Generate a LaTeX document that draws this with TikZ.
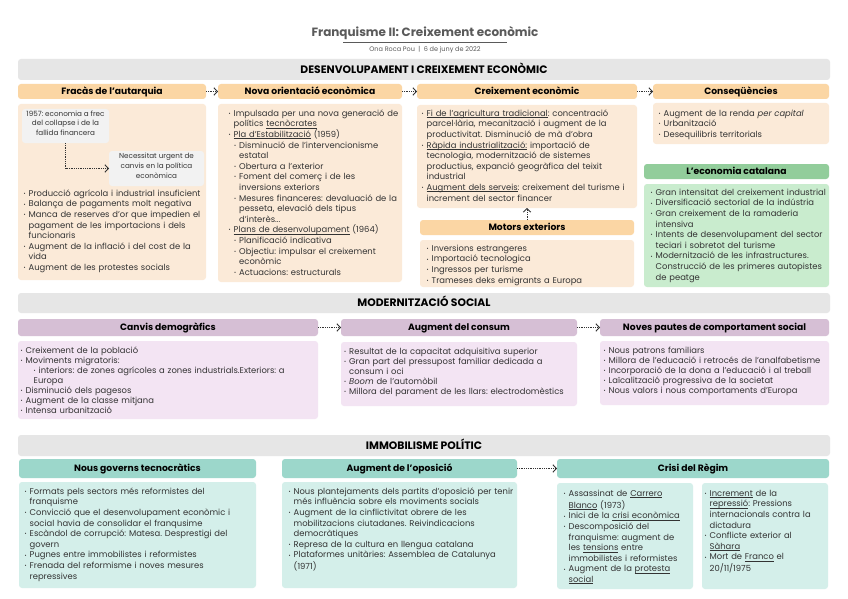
\documentclass[tikz,border=0pt]{standalone}
\usepackage{fontspec}
\setmainfont{Poppins}
\usetikzlibrary{arrows.meta,fit}
\setlength{\parskip}{0pt}
\frenchspacing
\definecolor{orH}{HTML}{FBD6A4}
\definecolor{orB}{HTML}{FBEAD8}
\definecolor{grH}{HTML}{92CD9B}
\definecolor{grB}{HTML}{C9ECCE}
\definecolor{puH}{HTML}{D6BFD5}
\definecolor{puB}{HTML}{F3E4F3}
\definecolor{teH}{HTML}{9CD7CB}
\definecolor{teB}{HTML}{D4EFEA}
\definecolor{barC}{HTML}{E6E6E6}
\definecolor{gbox}{HTML}{F2F2F2}
\definecolor{txtC}{HTML}{333333}
\definecolor{titleC}{HTML}{5A5A5A}
\definecolor{arrC}{HTML}{333333}
\newcommand\bulletchar{\raisebox{0.9pt}{\fontsize{5}{5}\selectfont •}}
\newcommand\bx[3]{\par\noindent\hangindent=#2\relax\hangafter=1\relax\hspace*{#1}\makebox[5pt][l]{\bulletchar}\strut#3}
\newcommand\bi[1]{\bx{0pt}{5pt}{#1}}
\newcommand\bii[1]{\bx{5.5pt}{10.5pt}{#1}}
\newcommand\ulx[1]{\begingroup\setbox0=\hbox{#1}\rlap{\rule[-1.4pt]{\wd0}{0.45pt}}\box0\endgroup}
\tikzset{
  panel/.style={rounded corners=3pt, inner sep=0pt, outer sep=0pt, draw=none},
  htxt/.style={anchor=base, inner sep=0pt, font=\bfseries\fontsize{9.2}{11}\selectfont, text=black},
  stxt/.style={anchor=base, inner sep=0pt, font=\bfseries\fontsize{10.8}{12}\selectfont, text=black},
  gnote/.style={panel, fill=gbox, font=\fontsize{7.2}{9.6}\selectfont, align=center, text=txtC},
  txt/.style={anchor=north west, inner sep=0pt, text width=300pt, align=left, font=\fontsize{8.4}{10.6}\selectfont, text=txtC},
  txtb/.style={txt, font=\fontsize{8.4}{10}\selectfont},
  arr/.style={draw=arrC, line width=0.8pt, densely dotted, -{Straight Barb[length=3.5pt,width=7.5pt,line width=0.9pt]}}
}
\begin{document}
\begin{tikzpicture}[x=1pt,y=-1pt]
\useasboundingbox[fill=white] (0,0) rectangle (848,599);
% title
\node[font=\bfseries\fontsize{12}{14}\selectfont, text=titleC] (title) at (425,33) {Franquisme II: Creixement econòmic};
\draw[titleC, line width=0.6pt] (343,42) -- (507,42);
\node[font=\fontsize{6.5}{8}\selectfont, text=titleC] (sub) at (425,50) {Ona Roca Pou \ | \ 6 de juny de 2022};

% ===== section 1
\node[panel, fill=barC, fit={(18,59)(830,80)}] (s1) {};
\node[stxt] (s1t) at ([yshift=-3.8pt]s1.center) {DESENVOLUPAMENT I CREIXEMENT ECONÒMIC};

% column 1
\node[panel, fill=orH, fit={(18,84)(206,99)}] (h1) {};
\node[htxt] (h1t) at ([yshift=-3.2pt]h1.center) {Fracàs de l’autarquia};
\node[panel, fill=orB, fit={(18,104)(206,280)}] (b1) {};
\node[gnote, fit={(22,109)(109,143)}] (g1) {1957: economia a frec\\del collapse i de la\\fallida financera};
\node[gnote, fit={(109,151)(204,186)}] (g2) {Necessitat urgent de\\canvis en la política\\econòmica};
\draw[arr] (g1.south) |- (g2.west);
\node[txt] (t1) at (23.5,185.5) {%
\bi{Producció agrícola i industrial insuficient}
\bi{Balança de pagaments molt negativa}
\bi{Manca de reserves d’or que impedien el\newline pagament de les importacions i dels\newline funcionaris}
\bi{Augment de la inflació i del cost de la\newline vida}
\bi{Augment de les protestes socials}\par};

% column 2
\node[panel, fill=orH, fit={(218,84)(402,99)}] (h2) {};
\node[htxt] (h2t) at ([yshift=-3.2pt]h2.center) {Nova orientació econòmica};
\node[panel, fill=orB, fit={(218,104)(402,282)}] (b2) {};
\node[txt] (t2) at (228.5,105.5) {%
\bi{Impulsada per una nova generació de\newline polítics \ulx{tecnòcrates}}
\bi{\ulx{Pla d’Estabilització} (1959)}
\bii{Disminució de l’intervencionisme\newline estatal}
\bii{Obertura a l’exterior}
\bii{Foment del comerç i de les\newline inversions exteriors}
\bii{Mesures financeres: devaluació de la\newline pesseta, elevació dels tipus\newline d’interès...}
\bi{\ulx{Plans de desenvolupament} (1964)}
\bii{Planificació indicativa}
\bii{Objectiu: impulsar el creixement\newline econòmic}
\bii{Actuacions: estructurals}\par};

% column 3
\node[panel, fill=orH, fit={(417,84)(637,99)}] (h3) {};
\node[htxt] (h3t) at ([yshift=-3.2pt]h3.center) {Creixement econòmic};
\node[panel, fill=orB, fit={(417,105)(637,208)}] (b3) {};
\node[txt] (t3) at (421.5,105.5) {%
\bi{\ulx{Fi de l’agricultura tradicional}: concentració\newline parcel·lària, mecanització i augment de la\newline productivitat. Disminució de mà d’obra}
\bi{\ulx{Ràpida industrialització:} importació de\newline tecnologia, modernització de sistemes\newline productius, expanció geogràfica del teixit\newline industrial}
\bi{\ulx{Augment dels serveis}: creixement del turisme i\newline increment del sector financer}\par};
\node[panel, fill=orH, fit={(420,220)(634,235)}] (h3b) {};
\node[htxt] (h3bt) at ([yshift=-3.2pt]h3b.center) {Motors exteriors};
\node[panel, fill=orB, fit={(420,240)(634,287)}] (b3b) {};
\node[txt] (t3b) at (426.5,240.5) {%
\bi{Inversions estrangeres}
\bi{Importació tecnologica}
\bi{Ingressos per turisme}
\bi{Trameses deks emigrants a Europa}\par};

% column 4
\node[panel, fill=orH, fit={(653,84)(829,99)}] (h4) {};
\node[htxt] (h4t) at ([yshift=-3.2pt]h4.center) {Conseqüències};
\node[panel, fill=orB, fit={(653,103)(829,144)}] (b4) {};
\node[txt] (t4) at (658.5,105.5) {%
\bi{Augment de la renda \textit{per capital}}
\bi{Urbanització}
\bi{Desequilibris territorials}\par};
\node[panel, fill=grH, fit={(644,164)(829,179)}] (h5) {};
\node[htxt] (h5t) at ([yshift=-3.2pt]h5.center) {L’economia catalana};
\node[panel, fill=grB, fit={(644,184)(829,287)}] (b5) {};
\node[txt] (t5) at (650.5,184.5) {%
\bi{Gran intensitat del creixement industrial}
\bi{Diversificació sectorial de la indústria}
\bi{Gran creixement de la ramaderia\newline intensiva}
\bi{Intents de desenvolupament del sector\newline teciari i sobretot del turisme}
\bi{Modernització de les infrastructures.\newline Construcció de les primeres autopistes\newline de peatge}\par};

\draw[arr] (h1.east) -- (h2.west);
\draw[arr] (h2.east) -- (h3.west);
\draw[arr] (h3.east) -- (h4.west);
\draw[arr] (h3b.north) -- (b3.south);

% ===== section 2
\node[panel, fill=barC, fit={(18,293)(830,313)}] (s2) {};
\node[stxt] (s2t) at ([yshift=-3.8pt]s2.center) {MODERNITZACIÓ SOCIAL};
\node[panel, fill=puH, fit={(18,319)(318,336)}] (h6) {};
\node[htxt] (h6t) at ([yshift=-3.2pt]h6.center) {Canvis demogràfics};
\node[panel, fill=puB, fit={(18,341)(318,419)}] (b6) {};
\node[txtb] (t6) at (20.5,343.3) {%
\bi{Creixement de la població}
\bi{Moviments migratoris:}
\bx{13pt}{13pt}{interiors: de zones agrícoles a zones industrials.Exteriors: a\newline Europa}
\bi{Disminució dels pagesos}
\bi{Augment de la classe mitjana}
\bi{Intensa urbanització}\par};

\node[panel, fill=puH, fit={(341,319)(577,336)}] (h7) {};
\node[htxt] (h7t) at ([yshift=-3.2pt]h7.center) {Augment del consum};
\node[panel, fill=puB, fit={(341,342)(577,406)}] (b7) {};
\node[txtb] (t7) at (344,344.3) {%
\bi{Resultat de la capacitat adquisitiva superior}
\bi{Gran part del pressupost familiar dedicada a\newline consum i oci}
\bi{\textit{Boom} de l’automòbil}
\bi{Millora del parament de les llars: electrodomèstics}\par};

\node[panel, fill=puH, fit={(600,319)(829,336)}] (h8) {};
\node[htxt] (h8t) at ([yshift=-3.2pt]h8.center) {Noves pautes de comportament social};
\node[panel, fill=puB, fit={(600,341)(829,405)}] (b8) {};
\node[txtb] (t8) at (603.5,343.3) {%
\bi{Nous patrons familiars}
\bi{Millora de l’educació i retrocés de l’analfabetisme}
\bi{Incorporació de la dona a l’educació i al treball}
\bi{Laïcalització progressiva de la societat}
\bi{Nous valors i nous comportaments d’Europa}\par};

\draw[arr] (h6.east) -- (h7.west);
\draw[arr] (h7.east) -- (h8.west);

% ===== section 3
\node[panel, fill=barC, fit={(18,435)(830,456)}] (s3) {};
\node[stxt] (s3t) at ([yshift=-3.8pt]s3.center) {IMMOBILISME POLÍTIC};
\node[panel, fill=teH, fit={(19,459)(256,478)}] (h9) {};
\node[htxt] (h9t) at ([yshift=-3.2pt]h9.center) {Nous governs tecnocràtics};
\node[panel, fill=teB, fit={(19,482)(256,588)}] (b9) {};
\node[txt] (t9) at (24.5,483.5) {%
\bi{Formats pels sectors més reformistes del\newline franquisme}
\bi{Convicció que el desenvolupament econòmic i\newline social havia de consolidar el franqusime}
\bi{Escàndol de corrupció: Matesa. Desprestigi del\newline govern}
\bi{Pugnes entre immobilistes i reformistes}
\bi{Frenada del reformisme i noves mesures\newline repressives}\par};

\node[panel, fill=teH, fit={(282,459)(517,478)}] (h10) {};
\node[htxt] (h10t) at ([yshift=-3.2pt]h10.center) {Augment de l’oposició};
\node[panel, fill=teB, fit={(282,482)(517,588)}] (b10) {};
\node[txt] (t10) at (288.5,483.5) {%
\bi{Nous plantejaments dels partits d’oposició per tenir\newline més influència sobre els moviments socials}
\bi{Augment de la cinflictivitat obrere de les\newline mobilitzacions ciutadanes. Reivindicacions\newline democràtiques}
\bi{Represa de la cultura en llengua catalana}
\bi{Plataformes unitàries: Assemblea de Catalunya\newline (1971)}\par};

\node[panel, fill=teH, fit={(557,459)(829,478)}] (h11) {};
\node[htxt] (h11t) at ([yshift=-3.2pt]h11.center) {Crisi del Règim};
\node[panel, fill=teB, fit={(557,483)(693,589)}] (b11) {};
\node[txt] (t11) at (563.5,485.5) {%
\bi{Assassinat de \ulx{Carrero}\newline \ulx{Blanco} (1973)}
\bi{Inici de la \ulx{crisi econòmica}}
\bi{Descomposició del\newline franquisme: augment de\newline les \ulx{tensions} entre\newline immobilistes i reformistes}
\bi{Augment de la \ulx{protesta}\newline \ulx{social}}\par};
\node[panel, fill=teB, fit={(702,483)(828,589)}] (b12) {};
\node[txt] (t12) at (704.5,485.5) {%
\bi{\ulx{Increment} de la\newline \ulx{repressió}: Pressions\newline internacionals contra la\newline dictadura}
\bi{Conflicte exterior al\newline \ulx{Sàhara}}
\bi{Mort de \ulx{Franco} el\newline 20/11/1975}\par};

\draw[arr] (h10.east) -- (h11.west);
\end{tikzpicture}
\end{document}
